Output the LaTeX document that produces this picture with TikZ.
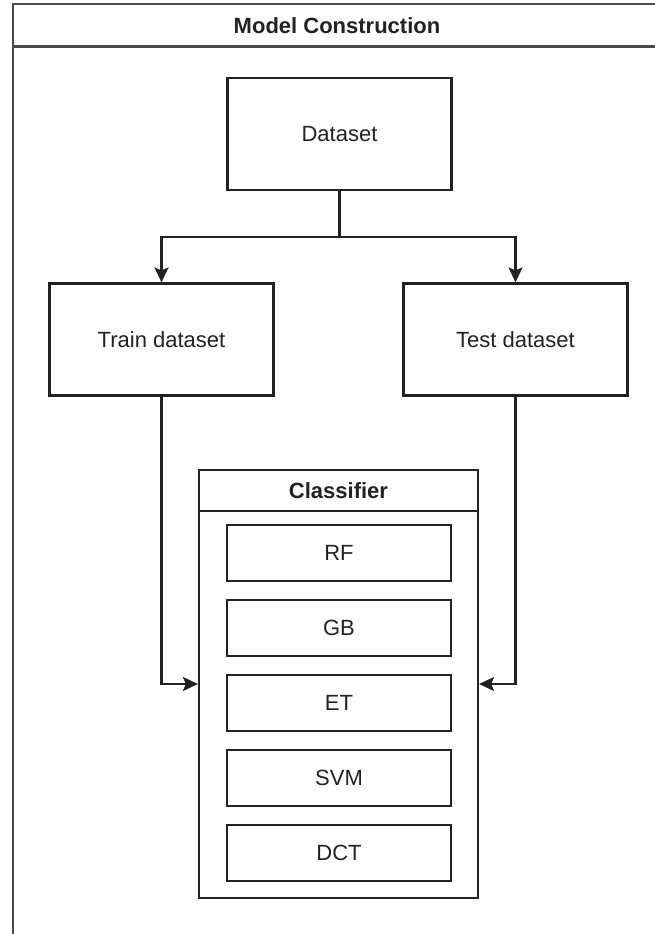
\documentclass[tikz,border=0pt]{standalone}
\usepackage{fontspec}
\setmainfont{Liberation Sans}
\usetikzlibrary{arrows.meta,positioning}
\definecolor{ink}{HTML}{222222}
\definecolor{framegray}{HTML}{4A4A4A}
\tikzset{
  txt/.style={font=\fontsize{22}{26}\selectfont, text=ink},
  boldtxt/.style={font=\fontsize{22}{26}\selectfont\bfseries, text=ink},
  box/.style={draw=ink, line width=2.2pt, rectangle, txt, inner sep=0pt},
  bigbox/.style={box, minimum width=224pt, minimum height=112pt},
  algbox/.style={box, minimum width=224pt, minimum height=56pt},
  flow/.style={draw=ink, line width=2.2pt,
    -{Stealth[length=15pt,width=14pt,inset=3pt]}},
  link/.style={draw=ink, line width=2.2pt},
}
\begin{document}
\begin{tikzpicture}[x=1pt,y=-1pt]
  \clip (0,0) rectangle (655,934);
  \fill[white] (0,0) rectangle (655,934);

  % outer swimlane frame with its title bar
  \draw[framegray, line width=1.8pt] (13,4) rectangle (661,980);
  \draw[framegray, line width=3pt] (13,46.5) -- (661,46.5);
  \node[boldtxt] (title) at (337,25.5) {Model Construction};

  % data boxes
  \node[bigbox] (data)  at (339.5,134)   {Dataset};
  \node[bigbox] (train) at (161.5,339.5) {Train dataset};
  \node[bigbox] (test)  at (515.5,339.5) {Test dataset};

  % classifier container
  \node[draw=ink, line width=2.2pt, minimum width=279pt, minimum height=428pt,
        inner sep=0pt] (clf) at (338.5,684) {};
  \node[boldtxt] (clfhead) at (338.5,491) {Classifier};
  \draw[link] (clf.north west) ++(0,42.3) -- ++(279,0);

  \node[algbox] (rf)  at (339,553) {RF};
  \node[algbox] (gb)  at (339,628) {GB};
  \node[algbox] (et)  at (339,703) {ET};
  \node[algbox] (svm) at (339,778) {SVM};
  \node[algbox] (dct) at (339,853) {DCT};

  % split of the dataset
  \coordinate (split) at (339.5,236.7);
  \draw[link] (data.south) -- (split);
  \draw[flow] (split) -| (train.north);
  \draw[flow] (split) -| (test.north);

  % both subsets feed the classifier
  \draw[flow] (train.south) |- (clf.west);
  \draw[flow] (test.south) |- (clf.east);
\end{tikzpicture}
\end{document}
